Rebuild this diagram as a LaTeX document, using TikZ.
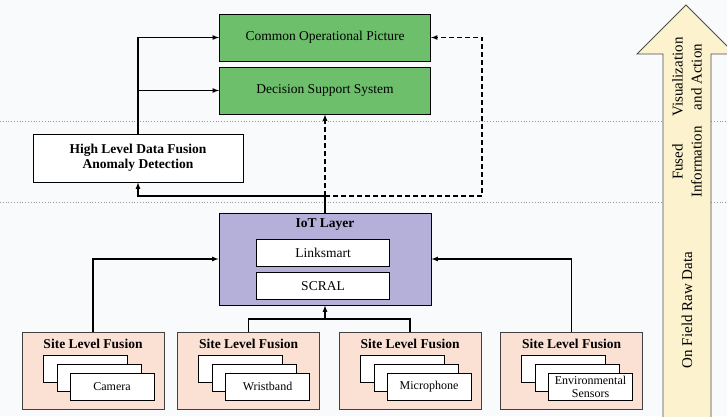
\documentclass[tikz,border=0pt]{standalone}
\usepackage{fontspec}
\setmainfont{Liberation Serif}

\definecolor{bgwhite}{RGB}{249,250,252}
\definecolor{boxgreen}{RGB}{109,191,108}
\definecolor{iotpurple}{RGB}{180,176,218}
\definecolor{sitepeach}{RGB}{250,225,211}
\definecolor{flowyellow}{RGB}{252,243,206}

\begin{document}
\begin{tikzpicture}[x=1pt,y=-1pt,
    every node/.style={font=\fontsize{13.5}{15}\selectfont},
    bold/.style={font=\fontsize{13.5}{15}\selectfont\bfseries},
    greenbox/.style={draw, line width=1pt, fill=boxgreen, minimum width=211pt, minimum height=47pt},
    iotbox/.style={draw, line width=1pt, fill=iotpurple, minimum width=212pt, minimum height=92pt},
    layerbox/.style={draw, line width=0.8pt, fill=white, minimum width=133pt, minimum height=27pt},
    sitebox/.style={draw=black!75, line width=1pt, fill=sitepeach, minimum width=142pt, minimum height=77pt},
    devbox/.style={draw, line width=0.8pt, fill=white, minimum width=84pt, minimum height=27pt,
        inner sep=1pt, align=center, font=\fontsize{12}{13}\selectfont},
    flowlabel/.style={rotate=90, align=center, font=\fontsize{15}{19}\selectfont},
    conn/.style={line width=1.2pt, -latex},
    level/.style={black!40, line width=0.8pt, dotted}]

    \useasboundingbox (0,0) rectangle (727,416);
    \fill[bgwhite] (0,0) rectangle (727,416);

    %Level separators
    \draw[level] (0,121) -- (727,121);
    \draw[level] (0,202) -- (727,202);

    %Flow arrow on the right
    \draw[fill=flowyellow, draw=black!70, line width=0.8pt]
        (663,420) -- (663,54) -- (637,54) -- (686,5) -- (735,54) -- (711,54) -- (711,420);
    \node[flowlabel] (lbl-vis) at (687,77) {Visualization\\and Action};
    \node[flowlabel] (lbl-fused) at (687,162) {Fused\\Information};
    \node[flowlabel] (lbl-raw) at (687,310) {On Field Raw Data};

    %Top boxes
    \node[greenbox] (cop) at (325,37.5) {Common Operational Picture};
    \node[greenbox] (dss) at (325,90.5) {Decision Support System};
    \node[draw, line width=1pt, fill=white, minimum width=210pt, minimum height=48pt,
        align=center, bold] (hldf) at (138,158) {High Level Data Fusion\\Anomaly Detection};

    %IoT layer
    \node[iotbox] (iot) at (325,259) {};
    \node[bold] (iot-title) at (325,225) {IoT Layer};
    \node[layerbox] (linksmart) at (323,252.5) {Linksmart};
    \node[layerbox] (scral) at (323,286) {SCRAL};

    %Site level fusion boxes
    \foreach \n/\x/\lbl in {cam/93/Camera, wri/248.5/Wristband, mic/410/Microphone,
        env/571.5/{Environmental\\Sensors}} {
        \node[sitebox] (site-\n) at (\x,370.5) {};
        \node[bold] (title-\n) at (\x,344) {Site Level Fusion};
        \node[devbox] (dev-\n-a) at (\x-8,369) {};
        \node[devbox] (dev-\n-b) at (\x+6,377.5) {};
        \node[devbox] (dev-\n-c) at (\x+19,386.5) {\lbl};
    }

    %Sites to IoT layer
    \draw[conn] (site-cam.north) |- (iot.west);
    \draw[conn] (site-env.north) |- (iot.east);
    \coordinate (merge) at (325,319);
    \draw[line width=1.2pt] (site-wri.north) |- (merge) -| (site-mic.north);
    \draw[conn] (merge) -- (iot.south);

    %IoT layer upwards
    \coordinate (split) at (325,196);
    \coordinate (bend) at (482,196);
    \draw[line width=1.2pt] (iot.north) -- (split);
    \draw[conn] (split) -| (hldf.south);
    \draw[conn, dash pattern=on 5pt off 3pt] (split) -- (dss.south);
    \draw[conn, dash pattern=on 5pt off 3pt] (split) -- (bend) |- (cop.east);

    %Fusion to visualization
    \draw[conn] (hldf.north) |- (cop.west);
    \draw[conn] (hldf.north |- dss.west) -- (dss.west);

\end{tikzpicture}
\end{document}
